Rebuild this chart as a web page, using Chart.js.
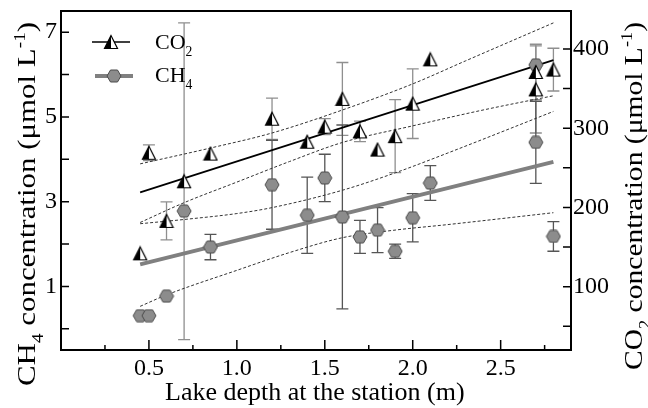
<!DOCTYPE html>
<html>
<head>
<meta charset="utf-8">
<script src="https://cdn.jsdelivr.net/npm/chart.js@4.4.1/dist/chart.umd.min.js"></script>
<style>
  html, body { margin: 0; padding: 0; background: #fff; }
  #wrap { width: 648px; height: 408px; }
</style>
</head>
<body>
<div id="wrap"><canvas id="gasDepth" width="648" height="408"></canvas></div>
<script>
// Station depth (m), mean concentration and standard deviation per sample
const depthCO2 = [0.45, 0.5, 0.6, 0.7, 0.85, 1.2, 1.4, 1.5, 1.6, 1.7, 1.8, 1.9, 2.0, 2.1, 2.7, 2.7, 2.8];
const co2Mean  = [142, 269, 183, 233, 268, 312, 283, 302, 337, 296, 273, 290, 331, 387, 371, 349, 374];
const co2Sd    = [0, 10, 24, 200, 0, 26, 0, 10, 46, 13, 0, 46, 44, 0, 35, 55, 27];

const depthCH4 = [0.45, 0.5, 0.6, 0.7, 0.85, 1.2, 1.4, 1.5, 1.6, 1.7, 1.8, 1.9, 2.0, 2.1, 2.7, 2.7, 2.8];
const ch4Mean  = [0.31, 0.31, 0.77, 2.78, 1.93, 3.40, 2.68, 3.56, 2.64, 2.17, 2.33, 1.83, 2.62, 3.44, 6.23, 4.40, 2.18];
const ch4Sd    = [0, 0, 0, 0, 0.3, 1.05, 0.9, 0.56, 2.17, 0.39, 0.53, 0.17, 0.57, 0.41, 0, 0.97, 0.35];

// Linear fits (end points) and their confidence bands
const fitDepth = [0.45, 2.8];
const co2Fit = [219, 386];
const ch4Fit = [1.52, 3.94];

const co2UpperDepth = [0.45, 0.85, 1.2, 1.6, 2.0, 2.3, 2.8];
const co2Upper      = [255, 275, 294, 323, 356, 385, 433];
const co2LowerDepth = [0.45, 0.7, 1.0, 1.3, 1.6, 2.0, 2.4, 2.8];
const co2Lower      = [181, 206, 232, 258, 282, 303, 323, 341];
const ch4UpperDepth = [0.45, 0.7, 1.0, 1.2, 1.6, 1.9, 2.2, 2.8];
const ch4Upper      = [2.48, 2.58, 2.72, 2.86, 3.27, 3.68, 4.15, 5.13];
const ch4LowerDepth = [0.45, 0.6, 1.0, 1.3, 1.6, 1.9, 2.2, 2.8];
const ch4Lower      = [0.53, 0.80, 1.38, 1.80, 2.15, 2.33, 2.46, 2.74];

// Tick labels and tick mark positions
const xTickLabels = ['0.5', '1.0', '1.5', '2.0', '2.5'];
const ch4TickLabels = ['1', '3', '5', '7'];
const co2TickLabels = ['100', '200', '300', '400'];
const xMajorMarks = [0.5, 1.0, 1.5, 2.0, 2.5];
const xMinorMarks = [0.25, 0.75, 1.25, 1.75, 2.25, 2.75];
const ch4Marks = [0, 1, 2, 3, 4, 5, 6, 7];
const co2Marks = [50, 100, 150, 200, 250, 300, 350, 400];

const FONT = '"Liberation Serif", serif';
Chart.defaults.font.family = FONT;
Chart.defaults.color = '#000';
const tickFont = { family: FONT, size: 24 };
const noGrid = { display: false, drawTicks: false };

// half black / half white triangle marker
function triangleMarker() {
  const c = document.createElement('canvas');
  c.width = 16; c.height = 16;
  const g = c.getContext('2d');
  g.beginPath(); g.moveTo(8, 1.5); g.lineTo(1.5, 14.5); g.lineTo(8, 14.5); g.closePath();
  g.fillStyle = '#000'; g.fill();
  g.beginPath(); g.moveTo(8, 1.5); g.lineTo(8, 14.5); g.lineTo(14.5, 14.5); g.closePath();
  g.fillStyle = '#fff'; g.fill();
  g.beginPath(); g.moveTo(8, 1.5); g.lineTo(1.5, 14.5); g.lineTo(14.5, 14.5); g.closePath();
  g.lineWidth = 1.2; g.strokeStyle = '#000'; g.stroke();
  return c;
}

// grey hexagon marker
function hexMarker() {
  const c = document.createElement('canvas');
  c.width = 16; c.height = 14;
  const g = c.getContext('2d');
  g.beginPath();
  g.moveTo(1, 7); g.lineTo(4.5, 1); g.lineTo(11.5, 1); g.lineTo(15, 7); g.lineTo(11.5, 13); g.lineTo(4.5, 13);
  g.closePath();
  g.fillStyle = '#8c8c8c'; g.fill();
  g.lineWidth = 1; g.strokeStyle = '#4a4a4a'; g.stroke();
  return c;
}

const triImg = triangleMarker();
const hexImg = hexMarker();

const pts = (xs, ys) => xs.map((x, i) => ({ x: x, y: ys[i] }));
const fixedTicks = marks => s => { s.ticks = marks.map(v => ({ value: v })); };

// text with sub/superscripts, drawn from the baseline at (0,0)
function richWidth(ctx, parts, size) {
  let w = 0;
  parts.forEach(p => {
    const s = p.s ? size * 0.62 : size;
    ctx.font = s + 'px ' + FONT;
    w += ctx.measureText(p.t).width;
  });
  return w;
}
function drawRich(ctx, parts, size) {
  let x = 0;
  parts.forEach(p => {
    const s = p.s ? size * 0.62 : size;
    const dy = p.s === 'sub' ? size * 0.3 : p.s === 'sup' ? -size * 0.38 : 0;
    ctx.font = s + 'px ' + FONT;
    ctx.fillText(p.t, x, dy);
    x += ctx.measureText(p.t).width;
  });
}
function drawTitle(ctx, parts, size, x, y, length, angle) {
  ctx.save();
  ctx.translate(x, y);
  ctx.rotate(angle);
  if (length) ctx.scale(length / richWidth(ctx, parts, size), 1);
  ctx.fillStyle = '#000';
  ctx.textAlign = 'left';
  ctx.textBaseline = 'alphabetic';
  drawRich(ctx, parts, size);
  ctx.restore();
}

const ch4Title = [{ t: 'CH' }, { t: '4', s: 'sub' }, { t: ' concentration (\u03bcmol L' }, { t: '-1', s: 'sup' }, { t: ')' }];
const co2Title = [{ t: 'CO' }, { t: '2', s: 'sub' }, { t: ' concentration (\u03bcmol L' }, { t: '-1', s: 'sup' }, { t: ')' }];
const xTitle = [{ t: 'Lake depth at the station (m)' }];

// error bars behind the markers
const errorBars = {
  id: 'errorBars',
  beforeDatasetsDraw(chart) {
    const { ctx, scales } = chart;
    const draw = (xs, ys, sds, yScale, color) => {
      ctx.save();
      ctx.strokeStyle = color;
      ctx.lineWidth = 1.3;
      xs.forEach((d, i) => {
        if (!sds[i]) return;
        const px = scales.x.getPixelForValue(d);
        const top = yScale.getPixelForValue(ys[i] + sds[i]);
        const bot = yScale.getPixelForValue(ys[i] - sds[i]);
        ctx.beginPath();
        ctx.moveTo(px, top); ctx.lineTo(px, bot);
        ctx.moveTo(px - 6, top); ctx.lineTo(px + 6, top);
        ctx.moveTo(px - 6, bot); ctx.lineTo(px + 6, bot);
        ctx.stroke();
      });
      ctx.restore();
    };
    draw(depthCO2, co2Mean, co2Sd, scales.yCO2, '#8f8f8f');
    draw(depthCH4, ch4Mean, ch4Sd, scales.yCH4, '#555');
  }
};

// frame, inward tick marks, axis titles and legend
const decorations = {
  id: 'decorations',
  afterDraw(chart) {
    const { ctx, chartArea: a, scales } = chart;
    ctx.save();
    ctx.strokeStyle = '#000';
    ctx.lineWidth = 1.5;
    ctx.beginPath();
    xMajorMarks.forEach(v => { const p = scales.x.getPixelForValue(v); ctx.moveTo(p, a.bottom); ctx.lineTo(p, a.bottom - 10); });
    xMinorMarks.forEach(v => { const p = scales.x.getPixelForValue(v); ctx.moveTo(p, a.bottom); ctx.lineTo(p, a.bottom - 5); });
    ch4Marks.forEach(v => { const p = scales.yCH4.getPixelForValue(v); ctx.moveTo(a.left, p); ctx.lineTo(a.left + 8, p); });
    co2Marks.forEach(v => { const p = scales.yCO2.getPixelForValue(v); ctx.moveTo(a.right, p); ctx.lineTo(a.right - 8, p); });
    ctx.stroke();
    ctx.lineWidth = 2;
    ctx.strokeRect(a.left, a.top, a.right - a.left, a.bottom - a.top);

    drawTitle(ctx, ch4Title, 26, 35, 386, 364, -Math.PI / 2);
    drawTitle(ctx, co2Title, 26, 642, 370, 348, -Math.PI / 2);
    drawTitle(ctx, xTitle, 26, 165, 400, null, 0);

    // legend
    ctx.lineWidth = 1.6;
    ctx.strokeStyle = '#000';
    ctx.beginPath(); ctx.moveTo(92, 42); ctx.lineTo(130, 42); ctx.stroke();
    ctx.drawImage(triImg, 111 - 8, 42 - 8);
    ctx.lineWidth = 4;
    ctx.strokeStyle = '#808080';
    ctx.beginPath(); ctx.moveTo(95, 76); ctx.lineTo(133, 76); ctx.stroke();
    ctx.drawImage(hexImg, 114 - 8, 76 - 7);
    drawTitle(ctx, [{ t: 'CO' }, { t: '2', s: 'sub' }], 22, 155, 49, null, 0);
    drawTitle(ctx, [{ t: 'CH' }, { t: '4', s: 'sub' }], 22, 155, 82, null, 0);
    ctx.restore();
  }
};

const band = (xs, ys, axis) => ({
  type: 'line',
  data: pts(xs, ys),
  yAxisID: axis,
  borderColor: '#333',
  borderWidth: 1,
  borderDash: [3, 2],
  pointRadius: 0,
  cubicInterpolationMode: 'monotone',
  order: 3
});

new Chart(document.getElementById('gasDepth'), {
  type: 'scatter',
  data: {
    datasets: [
      { label: 'CO2', data: pts(depthCO2, co2Mean), yAxisID: 'yCO2', pointStyle: triImg, pointRadius: 8, order: 0 },
      { label: 'CH4', data: pts(depthCH4, ch4Mean), yAxisID: 'yCH4', pointStyle: hexImg, pointRadius: 8, order: 1 },
      { type: 'line', label: 'CO2 fit', data: pts(fitDepth, co2Fit), yAxisID: 'yCO2', borderColor: '#000', borderWidth: 1.8, pointRadius: 0, order: 2 },
      { type: 'line', label: 'CH4 fit', data: pts(fitDepth, ch4Fit), yAxisID: 'yCH4', borderColor: '#808080', borderWidth: 4, pointRadius: 0, order: 2 },
      band(co2UpperDepth, co2Upper, 'yCO2'),
      band(co2LowerDepth, co2Lower, 'yCO2'),
      band(ch4UpperDepth, ch4Upper, 'yCH4'),
      band(ch4LowerDepth, ch4Lower, 'yCH4')
    ]
  },
  options: {
    responsive: false,
    animation: false,
    layout: { padding: { top: 11, left: 0, right: 0, bottom: 0 } },
    plugins: { legend: { display: false }, tooltip: { enabled: false } },
    scales: {
      x: {
        type: 'linear', position: 'bottom', min: 0, max: 2.9,
        grid: noGrid, border: { display: false },
        afterBuildTicks: fixedTicks(xMajorMarks),
        ticks: {
          autoSkip: false, maxRotation: 0, padding: 4,
          font: tickFont, color: '#000',
          callback: v => { const s = Number(v).toFixed(1); return xTickLabels.includes(s) ? s : ''; }
        },
        afterFit: s => { s.height = 58; s.paddingLeft = 0; s.paddingRight = 0; }
      },
      yCH4: {
        type: 'linear', position: 'left', min: -0.5, max: 7.5,
        grid: noGrid, border: { display: false },
        afterBuildTicks: fixedTicks(ch4Marks),
        ticks: {
          autoSkip: false, padding: 4,
          font: tickFont, color: '#000',
          callback: v => { const s = String(Math.round(v * 10) / 10); return ch4TickLabels.includes(s) ? s : ''; }
        },
        afterFit: s => { s.width = 61; s.paddingTop = 0; s.paddingBottom = 0; }
      },
      yCO2: {
        type: 'linear', position: 'right', min: 20, max: 448,
        grid: noGrid, border: { display: false },
        afterBuildTicks: fixedTicks(co2Marks),
        ticks: {
          autoSkip: false, padding: 2,
          font: tickFont, color: '#000',
          callback: v => { const s = String(Math.round(v)); return co2TickLabels.includes(s) ? s : ''; }
        },
        afterFit: s => { s.width = 77; s.paddingTop = 0; s.paddingBottom = 0; }
      }
    }
  },
  plugins: [errorBars, decorations]
});
</script>
</body>
</html>
